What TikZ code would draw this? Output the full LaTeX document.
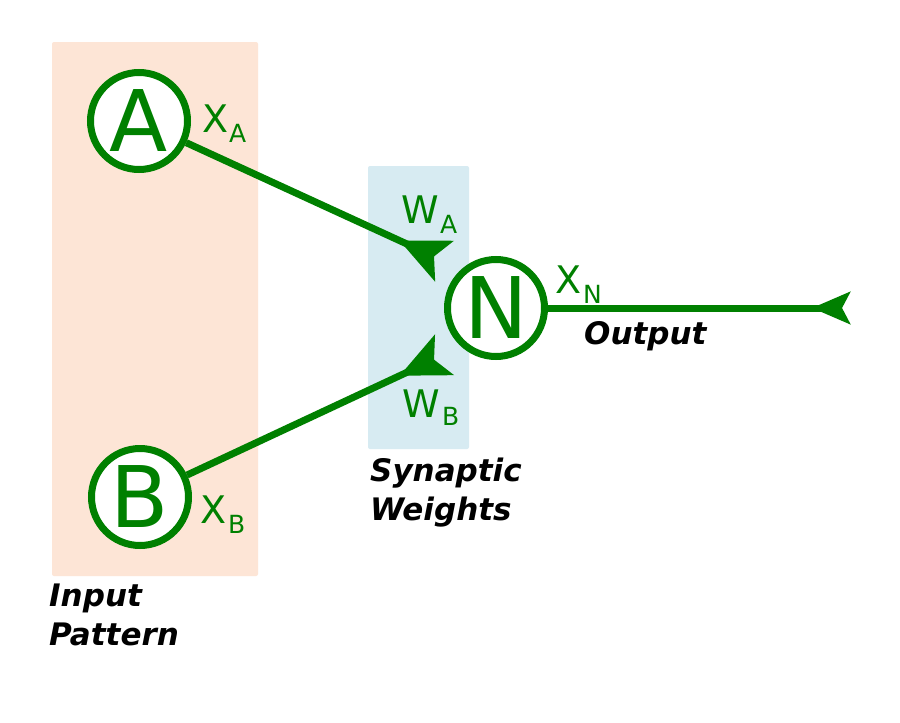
\documentclass[tikz,border=0pt]{standalone}
\usepackage{fontspec}
\setmainfont{DejaVu Sans}
\usetikzlibrary{arrows.meta}
\definecolor{nGreen}{HTML}{008000}
\definecolor{peach}{HTML}{FDE5D6}
\definecolor{lblue}{HTML}{D7EBF2}
\tikzset{
  neuron/.style={circle, draw=nGreen, line width=7pt, fill=white, minimum size=97pt, inner sep=0pt, text=nGreen, font=\fontsize{85}{85}\selectfont},
  conn/.style={draw=nGreen, line width=7pt},
  var/.style={anchor=base west, inner sep=0pt, text=nGreen, font=\fontsize{38}{38}\selectfont},
  sub/.style={anchor=base west, inner sep=0pt, text=nGreen, font=\fontsize{25}{25}\selectfont},
  caption/.style={anchor=base west, inner sep=0pt, align=left, font=\fontsize{31}{39}\selectfont\bfseries\itshape},
  region/.style={rounded corners=2pt, draw=none}
}
\begin{document}
\begin{tikzpicture}[x=1pt,y=-1pt]
\useasboundingbox (0,0) rectangle (900,723);
\fill[white] (0,0) rectangle (900,723);
\fill[peach, region] (52,42) rectangle (258,576);
\fill[lblue, region] (368,166) rectangle (469,449);

\coordinate (hA) at (444,261);
\coordinate (hB) at (444,355);
\coordinate (out) at (850,308);

\node[neuron] (A) at (139,121) {A};
\node[neuron] (B) at (140,497) {B};
\node[neuron] (N) at (496,308) {N};

\draw[conn, -{Stealth[reversed, length=49pt, width=44pt, inset=11pt]}] (A) -- (hA);
\draw[conn, -{Stealth[reversed, length=49pt, width=44pt, inset=11pt]}] (B) -- (hB);
\draw[conn, -{Stealth[reversed, length=38pt, width=32pt, inset=8pt]}] (N) -- (out);

\node[var] (xa) at (202,132) {X};
\node[sub] (xas) at (229,142) {A};
\node[var] (xb) at (200,523) {X};
\node[sub] (xbs) at (228,533) {B};
\node[var] (xn) at (555,293) {X};
\node[sub] (xns) at (583,303) {N};
\node[var] (wa) at (401,223) {W};
\node[sub] (was) at (440,233) {A};
\node[var] (wb) at (402,417) {W};
\node[sub] (wbs) at (442,425) {B};

\node[caption] (outl) at (584,344) {Output};
\node[caption] (synl) at (370,520) {Synaptic\\Weights};
\node[caption] (inl) at (49,645) {Input\\Pattern};
\end{tikzpicture}
\end{document}
